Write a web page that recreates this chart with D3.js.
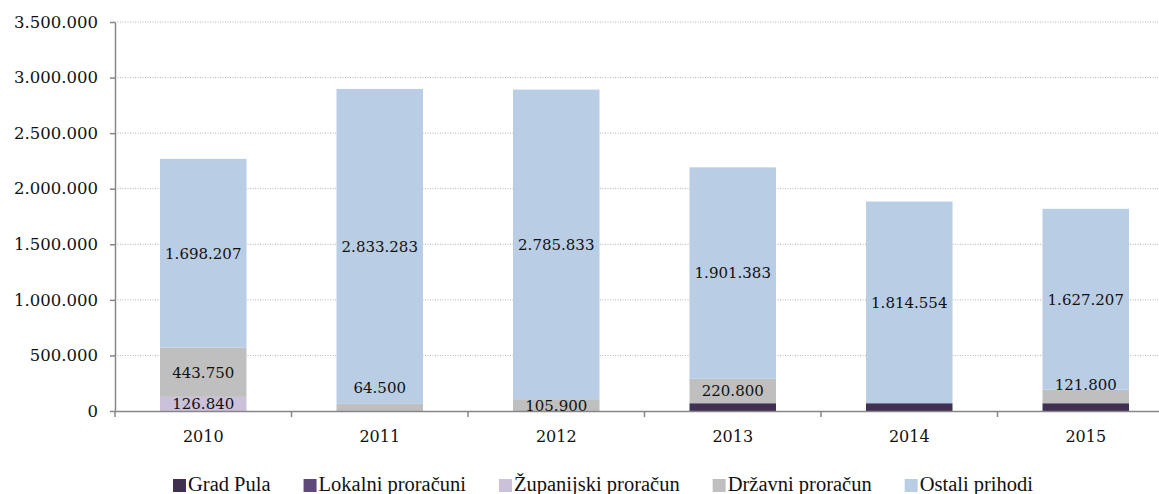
<!DOCTYPE html>
<html>
<head>
<meta charset="utf-8">
<script src="https://cdn.jsdelivr.net/npm/d3@7"></script>
<style>
  body { margin: 0; background: #fff; }
  svg { display: block; }
</style>
</head>
<body>
<svg width="1159" height="494"></svg>
<script>
const width = 1159;
const height = 494;

// data
const years = ["2010", "2011", "2012", "2013", "2014", "2015"];
const gradPula = [0, 0, 0, 70000, 70000, 70000];
const lokalni = [0, 0, 0, 0, 0, 0];
const zupanijski = [126840, 0, 0, 0, 0, 0];
const drzavni = [443750, 64500, 105900, 220800, 0, 121800];
const ostali = [1698207, 2833283, 2785833, 1901383, 1814554, 1627207];
const yTicks = [0, 500000, 1000000, 1500000, 2000000, 2500000, 3000000, 3500000];

const seriesNames = ["Grad Pula", "Lokalni proračuni", "Županijski proračun", "Državni proračun", "Ostali prihodi"];
const seriesColors = ["#403152", "#604a7b", "#ccc1da", "#bfbfbf", "#b9cde5"];
const seriesLabeled = [false, false, true, true, true];

const svg = d3.select("svg");

const fmt = d3.formatLocale({ decimal: ",", thousands: ".", grouping: [3], currency: ["", ""] }).format(",d");

const x = d3.scaleBand()
    .domain(years)
    .range([115, 1174])
    .paddingInner(0.51)
    .paddingOuter(0.255);

const y = d3.scaleLinear()
    .domain([0, 3500000])
    .range([411, 22]);

// table for the stack
const table = years.map((yr, i) => ({
    year: yr,
    s0: gradPula[i], s1: lokalni[i], s2: zupanijski[i], s3: drzavni[i], s4: ostali[i]
}));
const stack = d3.stack().keys(["s0", "s1", "s2", "s3", "s4"])(table);

// gridlines
svg.append("g")
    .selectAll("line")
    .data(yTicks.slice(1))
    .join("line")
    .attr("x1", 115).attr("x2", width)
    .attr("y1", d => y(d)).attr("y2", d => y(d))
    .attr("stroke", "#b4b4b4")
    .attr("stroke-width", 1)
    .attr("stroke-dasharray", "1,1.5");

// bars
const layers = svg.append("g")
    .selectAll("g")
    .data(stack)
    .join("g")
    .attr("fill", (d, i) => seriesColors[i]);

layers.selectAll("rect")
    .data(d => d.filter(p => p[1] - p[0] > 0))
    .join("rect")
    .attr("x", d => x(d.data.year))
    .attr("width", x.bandwidth())
    .attr("y", d => y(d[1]))
    .attr("height", d => y(d[0]) - y(d[1]));

// y axis
const yAxis = svg.append("g")
    .attr("transform", "translate(115,0)")
    .call(d3.axisLeft(y).tickValues(yTicks).tickFormat(fmt).tickSize(5).tickPadding(12).tickSizeOuter(0));
yAxis.select(".domain").attr("stroke", "#868686").attr("stroke-width", 1.5);
yAxis.selectAll(".tick line").attr("stroke", "#868686").attr("stroke-width", 1.5);
yAxis.selectAll("text")
    .attr("font-family", "DejaVu Serif")
    .attr("font-size", 16.5)
    .attr("fill", "#111");

// x axis
const xAxis = svg.append("g")
    .attr("transform", "translate(0,411)")
    .call(d3.axisBottom(x).tickSize(0).tickPadding(20));
xAxis.select(".domain").attr("stroke", "#868686").attr("stroke-width", 1.5);
xAxis.selectAll("text")
    .attr("font-family", "DejaVu Serif")
    .attr("font-size", 16)
    .attr("fill", "#111");

// category separators on x axis
const gap = x.step() - x.bandwidth();
const bounds = years.map(yr => x(yr) - gap / 2).concat([x(years[years.length - 1]) + x.bandwidth() + gap / 2]);
svg.append("g")
    .selectAll("line")
    .data(bounds)
    .join("line")
    .attr("x1", d => d).attr("x2", d => d)
    .attr("y1", 411).attr("y2", 417)
    .attr("stroke", "#868686")
    .attr("stroke-width", 1.5);

// value labels
const labels = [];
stack.forEach((layer, si) => {
    if (!seriesLabeled[si]) return;
    layer.forEach(p => {
        const v = p[1] - p[0];
        if (v <= 0) return;
        const top = y(p[1]), bot = y(p[0]);
        const h = bot - top;
        let cy = (top + bot) / 2;
        if (h < 10) cy -= 20;
        else if (h < 15 && p[0] > 0) cy -= 12;
        labels.push({ x: x(p.data.year) + x.bandwidth() / 2, y: cy, text: fmt(v) });
    });
});

svg.append("g")
    .selectAll("text")
    .data(labels)
    .join("text")
    .attr("x", d => d.x)
    .attr("y", d => d.y)
    .attr("dy", "0.36em")
    .attr("text-anchor", "middle")
    .attr("font-family", "DejaVu Serif")
    .attr("font-size", 15)
    .attr("fill", "#111")
    .text(d => d.text);

// legend
const legend = svg.append("g").attr("transform", "translate(0,479)");
const items = legend.selectAll("g")
    .data(seriesNames)
    .join("g");
items.append("rect")
    .attr("y", 0)
    .attr("width", 13)
    .attr("height", 13)
    .attr("fill", (d, i) => seriesColors[i]);
items.append("text")
    .attr("x", 15)
    .attr("y", 12)
    .attr("font-family", "Liberation Serif")
    .attr("font-size", 20.5)
    .attr("fill", "#111")
    .text(d => d);

const itemGap = 33;
let lx = 0;
const offsets = [];
items.each(function () {
    offsets.push(lx);
    lx += 15 + this.querySelector("text").getComputedTextLength() + itemGap;
});
const totalW = lx - itemGap;
const startX = 603 - totalW / 2;
items.attr("transform", (d, i) => `translate(${startX + offsets[i]},0)`);
</script>
</body>
</html>
